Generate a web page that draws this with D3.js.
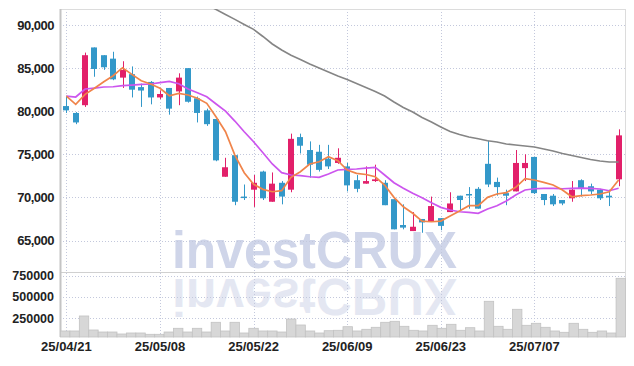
<html>
<head>
<meta charset="utf-8">
<script src="https://d3js.org/d3.v7.min.js"></script>
<style>
  body { margin: 0; background: #fff; }
  text { font-family: "Liberation Sans", Arial, sans-serif; }
</style>
</head>
<body>
<svg id="chart" width="634" height="366"></svg>
<script>

// ---- data ----
var dates = ["25/04/21","25/04/22","25/04/23","25/04/24","25/04/25","25/04/28","25/04/29","25/04/30","25/05/02","25/05/07",
  "25/05/08","25/05/09","25/05/12","25/05/13","25/05/14","25/05/15","25/05/16","25/05/19","25/05/20","25/05/21",
  "25/05/22","25/05/23","25/05/26","25/05/27","25/05/28","25/05/29","25/05/30","25/06/02","25/06/04","25/06/05",
  "25/06/09","25/06/10","25/06/11","25/06/12","25/06/13","25/06/16","25/06/17","25/06/18","25/06/19","25/06/20",
  "25/06/23","25/06/24","25/06/25","25/06/26","25/06/27","25/06/30","25/07/01","25/07/02","25/07/03","25/07/04",
  "25/07/07","25/07/08","25/07/09","25/07/10","25/07/11","25/07/14","25/07/15","25/07/16","25/07/17","25/07/18"];

var openP  = [80600,79800,80700,87400,86500,86100,83900,84300,82800,83400,81600,82700,82300,85000,81500,80100,79100,72400,74900,70100,
  70900,73000,69500,71700,70900,77000,75500,75300,74500,74000,73600,72000,71600,71900,71700,69800,66800,66100,67500,67200,
  67600,68300,70200,70400,71000,73900,71800,70500,70700,73400,74700,70400,70200,69700,69900,72000,71300,70900,70200,72100];
var highP  = [81800,79900,86800,87400,86500,86900,85800,85200,83200,83500,82400,82700,84400,85000,81700,80300,79100,74600,74900,71500,
  72600,73100,72900,71900,77400,77400,76500,76100,76100,75700,74000,72600,73600,73800,72000,69800,69200,68300,67500,70100,
  67600,70600,70200,71200,71200,76600,72300,70900,75500,75000,74700,70400,70400,69700,71900,72100,71600,71000,70900,77900];
var lowP   = [79800,78500,80500,84000,84800,83600,82700,81600,80500,80800,81400,79600,80700,81000,78700,78300,74200,72400,69100,69700,
  68900,69700,69500,69200,70600,75100,72300,73000,73300,73900,70700,70600,71600,71800,69100,66300,66300,66100,65900,67200,
  66200,68300,68500,68700,68700,71200,70200,69100,70700,71900,70400,69100,69000,69100,69500,70100,70400,69700,69000,71300];
var closeP = [80100,78700,86500,84900,85100,83700,84800,82500,82400,81600,82000,80300,83900,81100,79800,78500,74300,73500,69500,70000,
  71700,69900,71600,70100,76800,76000,73800,73200,73600,74600,71400,71000,71900,72100,69100,66300,66500,66600,67100,69000,
  66700,69300,69700,70300,68700,71500,71200,70200,74000,74000,70500,69700,69200,69300,70900,71100,70700,69900,70000,77200];

var ma5  = [81760,80800,81960,82660,83420,84120,85050,84280,83540,83160,82660,81800,82080,81880,81500,80920,79330,77620,74920,72870,
  71520,70940,70660,70780,72330,72980,73880,74140,74720,74260,73180,72800,72660,72400,71440,70010,68920,68160,67260,67180,
  67260,67840,68420,69040,69040,70010,70400,70550,71170,72170,72020,71750,71440,70860,70080,70200,70280,70400,70660,72020];
var ma20 = [81760,81650,82580,82690,82810,82840,82960,83040,83120,83160,83310,83470,83190,82580,82150,81680,80840,80020,78860,77620,
  76460,75190,73880,72870,72600,72520,72400,72330,72720,73180,73260,73300,73390,73490,72600,71710,71060,70480,69970,69390,
  68850,68540,68340,68270,68160,68660,69040,69580,70280,70860,71010,71060,71060,71010,71060,71090,71060,70980,70780,71060];
var ma60 = [null,null,null,null,null,null,null,null,null,null,null,null,null,null,92900,92350,91800,91230,90660,90070,
  89500,88670,87800,87100,86490,86000,85480,85010,84550,84080,83680,83210,82750,82290,81760,81070,80430,79910,79270,78750,
  78170,77650,77300,77010,76800,76580,76430,76200,76080,75960,75850,75620,75380,75090,74860,74630,74400,74220,74110,74110];

var volume = [100000,100000,276000,111500,88000,88000,64600,76300,76300,61000,61000,88000,131500,88000,131500,88000,201900,99800,201900,76300,
  131500,100000,100000,88000,240600,170200,100000,76300,103300,108000,150200,100000,119700,143200,201900,213600,154900,108000,100000,166700,
  131500,178400,108000,138500,100000,448400,154900,119700,354500,166700,190100,143200,100000,84500,190100,119700,84500,100000,76300,718300];

var priceTicks  = [65000, 70000, 75000, 80000, 85000, 90000];
var volumeTicks = [250000, 500000, 750000];
var dateTicks   = ["25/04/21","25/05/08","25/05/22","25/06/09","25/06/23","25/07/07"];

// ---- layout ----
var left = 60, right = 625;
var plotTop = 9, mid = 272, bottom = 337;

var x = d3.scaleBand().domain(dates).range([left, right]).padding(0.36);
var xc = function(d) { return x(d) + x.bandwidth() / 2; };
var y = d3.scaleLinear().domain([61350, 91860]).range([mid, plotTop]);
var yv = d3.scaleLinear().domain([0, 750000]).range([339.5, 275.6]);

var svg = d3.select("#chart");

svg.append("defs").append("clipPath").attr("id", "main-clip")
  .append("rect").attr("x", left).attr("y", plotTop).attr("width", right - left).attr("height", mid - plotTop);

// watermark + reflection
var wm = svg.append("g").style("font-family", "'DejaVu Sans Condensed', sans-serif");
wm.append("text")
  .attr("x", 172).attr("y", 268)
  .attr("textLength", 285).attr("lengthAdjust", "spacingAndGlyphs")
  .style("font-size", "51px").style("font-weight", "bold")
  .style("fill", "#cfd5e9")
  .text("investCRUX");
wm.append("text")
  .attr("transform", "translate(0,547) scale(1,-1)")
  .attr("x", 172).attr("y", 268)
  .attr("textLength", 285).attr("lengthAdjust", "spacingAndGlyphs")
  .style("font-size", "51px").style("font-weight", "bold")
  .style("fill", "#cfd5e9").style("opacity", 0.55)
  .text("investCRUX");

// grid
var grid = svg.append("g")
  .attr("stroke", "#c3c8dc").attr("stroke-dasharray", "1,2").attr("stroke-width", 1);
grid.selectAll(".hp").data(priceTicks).enter().append("line")
  .attr("x1", left).attr("x2", right)
  .attr("y1", function(d) { return Math.round(y(d)) + 0.5; })
  .attr("y2", function(d) { return Math.round(y(d)) + 0.5; });
grid.selectAll(".hv").data(volumeTicks).enter().append("line")
  .attr("x1", left).attr("x2", right)
  .attr("y1", function(d) { return Math.round(yv(d)) + 0.5; })
  .attr("y2", function(d) { return Math.round(yv(d)) + 0.5; });
grid.selectAll(".vx").data(dateTicks).enter().append("line")
  .attr("y1", plotTop).attr("y2", bottom)
  .attr("x1", function(d) { return Math.round(xc(d)) + 0.5; })
  .attr("x2", function(d) { return Math.round(xc(d)) + 0.5; });

// frame
svg.append("line").attr("x1", left).attr("x2", right).attr("y1", plotTop + 0.5).attr("y2", plotTop + 0.5).attr("stroke", "#dcdcdc");
svg.append("line").attr("x1", right + 0.5).attr("x2", right + 0.5).attr("y1", plotTop).attr("y2", bottom).attr("stroke", "#dcdcdc");
svg.append("line").attr("x1", left).attr("x2", right).attr("y1", mid + 0.5).attr("y2", mid + 0.5).attr("stroke", "#d0d0d0");
svg.append("line").attr("x1", left + 0.5).attr("x2", left + 0.5).attr("y1", plotTop).attr("y2", bottom).attr("stroke", "#c4c4c4").attr("stroke-width", 2);

// volume bars
var xv = d3.scaleBand().domain(dates).range([left, right]).padding(0);
svg.append("g").selectAll("rect").data(dates).enter().append("rect")
  .attr("x", function(d) { return xv(d) + 0.5; })
  .attr("width", xv.bandwidth())
  .attr("y", function(d, i) { return yv(volume[i]); })
  .attr("height", function(d, i) { return bottom - yv(volume[i]); })
  .attr("fill", "#d7d7d7").attr("stroke", "#c2c2c2").attr("stroke-width", 0.8);

// candles
var upColor = "#e2206a", downColor = "#3398c9";
var candles = svg.append("g").selectAll("g").data(dates).enter().append("g");
candles.append("line")
  .attr("x1", function(d) { return Math.round(xc(d)) + 0.5; })
  .attr("x2", function(d) { return Math.round(xc(d)) + 0.5; })
  .attr("y1", function(d, i) { return y(highP[i]); })
  .attr("y2", function(d, i) { return y(lowP[i]); })
  .attr("stroke", function(d, i) { return closeP[i] >= openP[i] ? upColor : downColor; })
  .attr("stroke-width", 1);
candles.append("rect")
  .attr("x", function(d) { return Math.round(x(d)); })
  .attr("width", Math.round(x.bandwidth()))
  .attr("y", function(d, i) { return y(Math.max(openP[i], closeP[i])); })
  .attr("height", function(d, i) { return Math.max(1.5, Math.abs(y(openP[i]) - y(closeP[i]))); })
  .attr("fill", function(d, i) { return closeP[i] >= openP[i] ? upColor : downColor; });

// moving averages
function maLine(values) {
  return d3.line()
    .defined(function(d) { return d !== null; })
    .x(function(d, i) { return xc(dates[i]); })
    .y(function(d) { return y(d); })(values);
}
var lines = svg.append("g").attr("clip-path", "url(#main-clip)").attr("fill", "none");
lines.append("path").attr("d", maLine(ma60)).attr("stroke", "#858585").attr("stroke-width", 1.6);
lines.append("path").attr("d", maLine(ma20)).attr("stroke", "#cc55ee").attr("stroke-width", 1.7);
lines.append("path").attr("d", maLine(ma5)).attr("stroke", "#f0844a").attr("stroke-width", 1.7);

// axes
var yAxis = svg.append("g")
  .attr("transform", "translate(" + left + ",0)")
  .call(d3.axisLeft(y).tickValues(priceTicks).tickSize(0).tickPadding(6).tickFormat(d3.format(",")));
var vAxis = svg.append("g")
  .attr("transform", "translate(" + left + ",0)")
  .call(d3.axisLeft(yv).tickValues(volumeTicks).tickSize(0).tickPadding(6).tickFormat(d3.format("d")));
var xAxis = svg.append("g")
  .attr("transform", "translate(0," + bottom + ")")
  .call(d3.axisBottom(x).tickValues(dateTicks).tickSize(0).tickPadding(5));
[yAxis, vAxis, xAxis].forEach(function(a) {
  a.select(".domain").remove();
  a.selectAll("text").style("font-size", "13px").style("fill", "#222").style("font-weight", "bold")
    .style("font-family", "'Liberation Sans', Arial, sans-serif");
});
yAxis.selectAll("text").style("letter-spacing", "-0.5px");
vAxis.selectAll("text").style("font-size", "12.5px");

</script>
</body>
</html>
